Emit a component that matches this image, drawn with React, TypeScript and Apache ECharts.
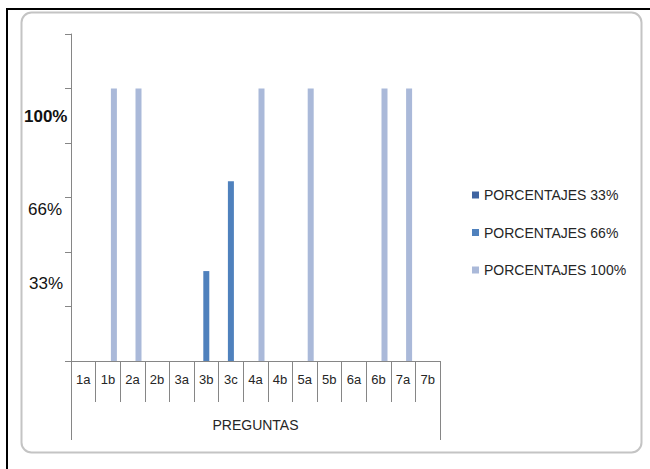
import React, { useEffect, useRef } from "react";
import * as echarts from "echarts";

const categories = ["1a", "1b", "2a", "2b", "3a", "3b", "3c", "4a", "4b", "5a", "5b", "6a", "6b", "7a", "7b"];
const seriesNames = ["PORCENTAJES 33%", "PORCENTAJES 66%", "PORCENTAJES 100%"];
const p33 = [0, 0, 0, 0, 0, 0, 0, 0, 0, 0, 0, 0, 0, 0, 0];
const p66 = [0, 0, 0, 0, 0, 0.33, 0.66, 0, 0, 0, 0, 0, 0, 0, 0];
const p100 = [0, 1, 1, 0, 0, 0, 0, 1, 0, 1, 0, 0, 1, 1, 0];
const axisTitle = ["PREGUNTAS"];
const yTextLabels = ["100%", "66%", "33%"];

const colors = ["#3F64A1", "#4F81BD", "#AAB9D9"];
const FONT = "'Liberation Sans', Arial, sans-serif";

export default function App() {
  const ref = useRef<HTMLDivElement>(null);
  useEffect(() => {
    if (!ref.current) return;
    const chart = echarts.init(ref.current, undefined, { renderer: "svg" });
    const gray = "#868686";
    const option: any = {
      animation: false,
      backgroundColor: "#ffffff",
      textStyle: { fontFamily: FONT },
      grid: { left: 71, top: 34, width: 369, height: 327, containLabel: false, outerBoundsMode: "none" },
      legend: {
        orient: "vertical",
        left: 467,
        top: 182,
        itemWidth: 7,
        itemHeight: 7,
        itemGap: 21.5,
        icon: "rect",
        data: seriesNames,
        textStyle: { fontFamily: FONT, fontSize: 14, color: "#262626", lineHeight: 16 },
      },
      xAxis: [
        {
          type: "category",
          data: categories,
          position: "bottom",
          boundaryGap: true,
          axisLine: { show: true, lineStyle: { color: gray, width: 1 } },
          axisTick: { show: true, length: 41, lineStyle: { color: gray } },
          axisLabel: { interval: 0, margin: 12, fontSize: 13, color: "#262626", fontFamily: FONT },
        },
        {
          type: "category",
          data: axisTitle,
          position: "bottom",
          gridIndex: 0,
          boundaryGap: true,
          axisLine: { show: false },
          axisTick: { show: true, length: 79, lineStyle: { color: gray } },
          axisLabel: { interval: 0, margin: 57, fontSize: 14, color: "#262626", fontFamily: FONT },
        },
      ],
      yAxis: {
        type: "value",
        min: 0,
        max: 1.2,
        interval: 0.2,
        axisLine: { show: true, lineStyle: { color: gray } },
        axisTick: { show: true, length: 6, lineStyle: { color: gray } },
        axisLabel: { show: false },
        splitLine: { show: false },
      },
      series: [
        { name: seriesNames[0], type: "bar", data: p33, barWidth: 6, barGap: "0%", itemStyle: { color: colors[0] } },
        { name: seriesNames[1], type: "bar", data: p66, barWidth: 6, barGap: "0%", itemStyle: { color: colors[1] } },
        { name: seriesNames[2], type: "bar", data: p100, barWidth: 6, barGap: "0%", itemStyle: { color: colors[2] } },
      ],
      graphic: [
        { type: "line", shape: { x1: 7, y1: 9, x2: 7, y2: 469 }, style: { stroke: "#000", lineWidth: 2 } },
        { type: "line", shape: { x1: 6, y1: 9, x2: 650, y2: 9 }, style: { stroke: "#000", lineWidth: 2 } },
        {
          type: "rect",
          shape: { x: 21.5, y: 12.5, width: 620, height: 440, r: 10 },
          style: { fill: "none", stroke: "#C4C4C4", lineWidth: 2 },
        },
        { type: "text", x: 24, y: 116, style: { text: yTextLabels[0], font: "bold 17px 'Liberation Sans', Arial", fill: "#111", verticalAlign: "middle" } },
        { type: "text", x: 28, y: 209, style: { text: yTextLabels[1], font: "17px 'Liberation Sans', Arial", fill: "#111", verticalAlign: "middle" } },
        { type: "text", x: 29, y: 283, style: { text: yTextLabels[2], font: "17px 'Liberation Sans', Arial", fill: "#111", verticalAlign: "middle" } },
      ],
    };
    chart.setOption(option);
    return () => chart.dispose();
  }, []);
  return <div ref={ref} style={{ position: "absolute", left: 0, top: 0, width: 650, height: 469 }} />;
}
